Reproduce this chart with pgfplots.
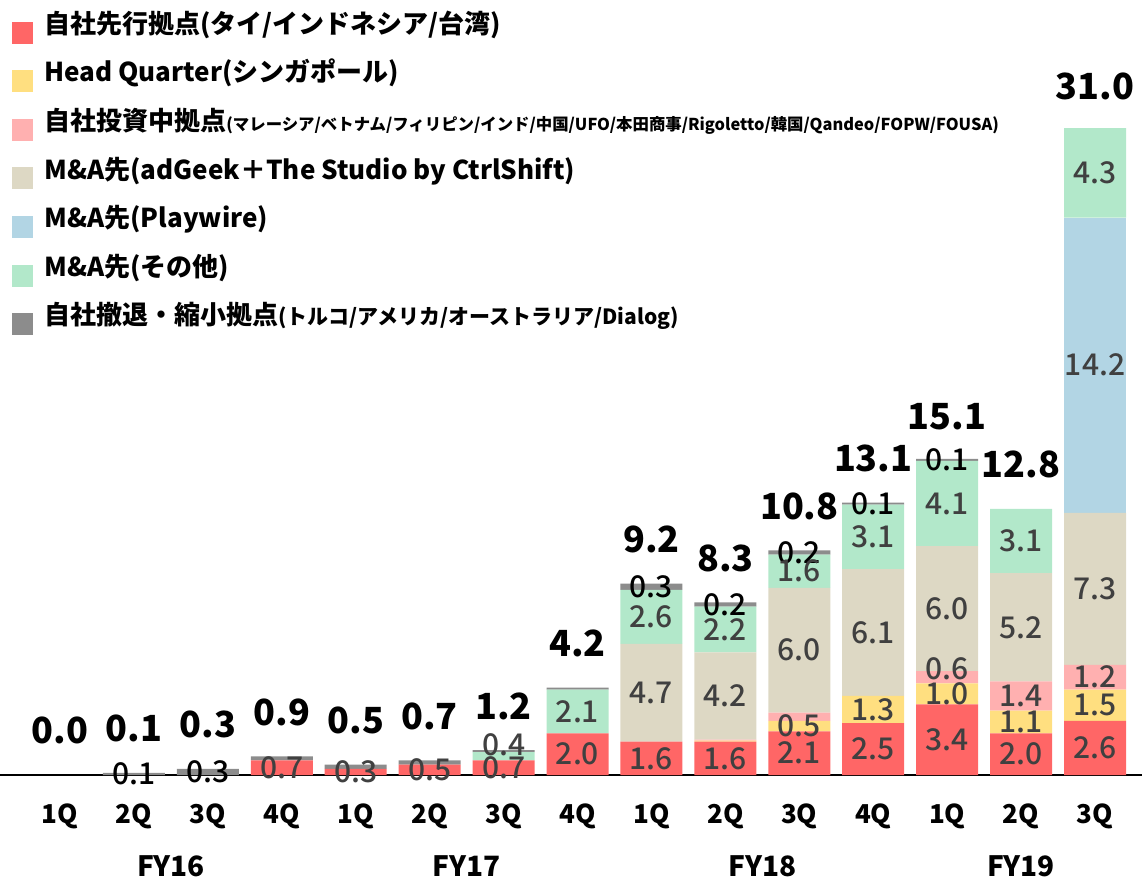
\documentclass[border=0pt]{standalone}
\usepackage{fontspec}
\setmainfont{Noto Sans CJK JP}
\IfFontExistsTF{Noto Sans CJK JP Medium}
  {\newfontfamily\labfont{Noto Sans CJK JP Medium}}
  {\newcommand\labfont{\bfseries}}
\usepackage{pgfplots}
\usepackage{pgfplotstable}
\pgfplotsset{compat=1.18}
\pgfkeys{/pgf/number format/assume math mode=true}

\definecolor{cRed}{HTML}{FF6666}
\definecolor{cYel}{HTML}{FFDF80}
\definecolor{cPink}{HTML}{FFB0B0}
\definecolor{cTan}{HTML}{DDD8C4}
\definecolor{cBlue}{HTML}{B2D5E4}
\definecolor{cGreen}{HTML}{B2E8CA}
\definecolor{cGray}{HTML}{8C8C8C}
\definecolor{labgray}{HTML}{404040}

% values per quarter, then 1/0 = segment label shown or not, S = label nudge (pt)
\pgfplotstableread{
x  r    y     p     b    l     g    k    tot   rL yL pL bL lL gL kL pS gS
0  0    0     0     0    0     0    0    0.0   0  0  0  0  0  0  0  0  0
1  0    0     0     0    0     0    0.1  0.1   0  0  0  0  0  0  1  0  0
2  0    0     0     0    0     0    0.3  0.3   0  0  0  0  0  0  1  0  0
3  0.7  0     0     0    0     0    0.2  0.9   1  0  0  0  0  0  0  0  0
4  0.3  0     0     0    0     0    0.2  0.5   1  0  0  0  0  0  0  0  0
5  0.5  0     0     0    0     0    0.2  0.7   1  0  0  0  0  0  0  0  0
6  0.7  0     0     0    0     0.4  0.1  1.2   1  0  0  0  0  1  0  0  6
7  2.0  0     0     0    0     2.1  0.1  4.2   1  0  0  0  0  1  0  0  0
8  1.6  0     0     4.7  0     2.6  0.3  9.2   1  0  0  1  0  1  1  0  0
9  1.6  0.05  0.05  4.2  0     2.2  0.2  8.3   1  0  0  1  0  1  1  0  0
10 2.1  0.5   0.4   6.0  0     1.6  0.2  10.8  1  1  0  1  0  1  1  0  0
11 2.5  1.3   0     6.1  0     3.1  0.1  13.1  1  1  0  1  0  1  1  0  0
12 3.4  1.0   0.6   6.0  0     4.1  0.1  15.1  1  1  1  1  0  1  1  4  0
13 2.0  1.1   1.4   5.2  0     3.1  0    12.8  1  1  1  1  0  1  0  0  0
14 2.6  1.5   1.2   7.3  14.2  4.3  0    31.0  1  1  1  1  1  1  0  0  0
}\quarters

\pgfplotsset{
  seglab/.style n args={3}{
    visualization depends on={\thisrow{#1}\as\rawy},
    visualization depends on={\thisrow{#2}\as\showlab},
    nodes near coords={\ifdim\showlab pt>0.5pt \pgfmathprintnumber[fixed,fixed zerofill,precision=1]{\rawy}\fi},
    every node near coord/.style={anchor=center,
      font=\labfont\fontsize{15}{15}\selectfont, text=#3},
  },
  nudge/.style={
    visualization depends on={\thisrow{#1}\as\nudgey},
    every node near coord/.append style={yshift=\nudgey pt},
  },
  common/.style={
    x=36.965pt, y=10.4pt,
    xmin=-0.8115, xmax=14.6355, ymin=0, ymax=37.26,
    clip=false,
  },
}

\begin{document}
\begin{tikzpicture}
\useasboundingbox (0,-52pt) rectangle (571pt,387.5pt);
\begin{axis}[
  common,
  ybar stacked,
  bar width=31pt,
  axis x line*=bottom,
  hide y axis,
  x axis line style={-, line width=1pt},
  xtick={0,...,14},
  xticklabels={1Q,2Q,3Q,4Q,1Q,2Q,3Q,4Q,1Q,2Q,3Q,4Q,1Q,2Q,3Q},
  xtick style={draw=none},
  xticklabel style={anchor=base, yshift=-24pt, font=\bfseries\fontsize{13}{13}\selectfont},
  extra x ticks={1.5,5.5,9.5,13},
  extra x tick labels={FY16,FY17,FY18,FY19},
  extra x tick style={xticklabel style={yshift=-26.5pt, font=\bfseries\fontsize{14}{14}\selectfont}},
  legend cell align=left,
  legend image code/.code={\fill[#1] (0pt,-9.5pt) rectangle (10.5pt,1.5pt);},
  legend style={draw=none, fill=none, at={(axis description cs:0,1)}, anchor=north west,
    xshift=6pt, inner sep=0pt, row sep=0pt,
    font=\bfseries\fontsize{13}{13}\selectfont,
    nodes={inner sep=0pt, text height=16.5pt, text depth=7.8pt},
    /tikz/every odd column/.append style={column sep=5.5pt}},
]
\addlegendimage{fill=cRed, draw=none}
\addlegendentry{自社先行拠点(タイ/インドネシア/台湾)}
\addlegendimage{fill=cYel, draw=none}
\addlegendentry{Head Quarter(シンガポール)}
\addlegendimage{fill=cPink, draw=none}
\addlegendentry{自社投資中拠点{\fontsize{8.2}{8.2}\selectfont (マレーシア/ベトナム/フィリピン/インド/中国/UFO/本田商事/Rigoletto/韓国/Qandeo/FOPW/FOUSA)}}
\addlegendimage{fill=cTan, draw=none}
\addlegendentry{M\&A先(adGeek＋The Studio by CtrlShift)}
\addlegendimage{fill=cBlue, draw=none}
\addlegendentry{M\&A先(Playwire)}
\addlegendimage{fill=cGreen, draw=none}
\addlegendentry{M\&A先(その他)}
\addlegendimage{fill=cGray, draw=none}
\addlegendentry{自社撤退・縮小拠点{\fontsize{10.5}{10.5}\selectfont (トルコ/アメリカ/オーストラリア/Dialog)}}

\addplot[forget plot, fill=cRed, draw=none, seglab={r}{rL}{labgray}] table[x=x, y=r]{\quarters};
\addplot[forget plot, fill=cYel, draw=none, seglab={y}{yL}{labgray}] table[x=x, y=y]{\quarters};
\addplot[forget plot, fill=cPink, draw=none, seglab={p}{pL}{labgray}, nudge=pS] table[x=x, y=p]{\quarters};
\addplot[forget plot, fill=cTan, draw=none, seglab={b}{bL}{labgray}] table[x=x, y=b]{\quarters};
\addplot[forget plot, fill=cBlue, draw=none, seglab={l}{lL}{labgray}] table[x=x, y=l]{\quarters};
\addplot[forget plot, fill=cGreen, draw=none, seglab={g}{gL}{labgray}, nudge=gS] table[x=x, y=g]{\quarters};
\addplot[forget plot, fill=cGray, draw=none, seglab={k}{kL}{black}] table[x=x, y=k]{\quarters};
\end{axis}
\begin{axis}[common, hide axis]
\addplot[draw=none, mark=none, point meta=explicit,
  nodes near coords={\pgfmathprintnumber[fixed,fixed zerofill,precision=1]{\pgfplotspointmeta}},
  every node near coord/.style={anchor=base, yshift=15.5pt, font=\bfseries\fontsize{18}{18}\selectfont, text=black}]
  table[x=x, y=tot, meta=tot]{\quarters};
\end{axis}
\end{tikzpicture}
\end{document}
